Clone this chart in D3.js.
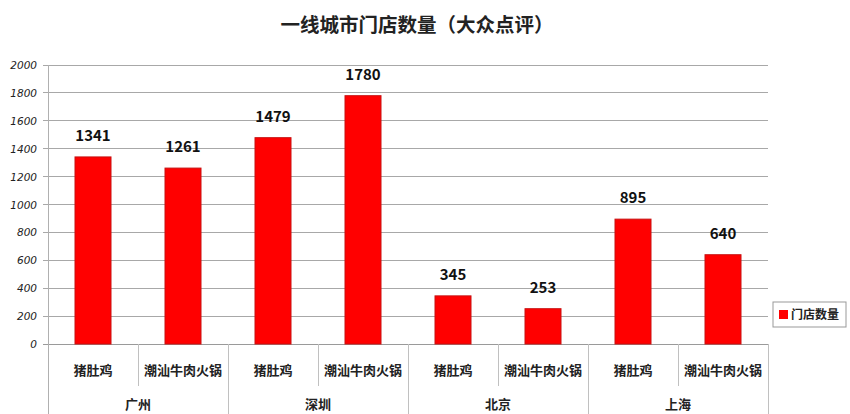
<!DOCTYPE html>
<html><head><meta charset="utf-8">
<script src="https://cdn.jsdelivr.net/npm/d3@7/dist/d3.min.js"></script>
<style>body{margin:0;background:#fff;}svg{display:block;font-family:"Noto Sans CJK SC","Noto Sans",sans-serif;}</style>
</head><body><svg id="c" width="850" height="414"></svg>
<script>
const cities = ["广州","深圳","北京","上海"];
const shops = ["猪肚鸡","潮汕牛肉火锅"];
const categories = ["广州|猪肚鸡","广州|潮汕牛肉火锅","深圳|猪肚鸡","深圳|潮汕牛肉火锅","北京|猪肚鸡","北京|潮汕牛肉火锅","上海|猪肚鸡","上海|潮汕牛肉火锅"];
const values = [1341,1261,1479,1780,345,253,895,640];
const yTicks = [0,200,400,600,800,1000,1200,1400,1600,1800,2000];
const seriesName = "门店数量";
const title = "一线城市门店数量（大众点评）";

const svg = d3.select("#c");
const L=48, R=768, T=65, B=344;
const x = d3.scaleBand().domain(categories).range([L,R]).paddingInner(0).paddingOuter(0);
const y = d3.scaleLinear().domain([0,2000]).range([B,T]);

svg.append("g").selectAll("line").data(yTicks).join("line")
  .attr("x1",L-5).attr("x2",R).attr("y1",d=>y(d)).attr("y2",d=>y(d))
  .attr("stroke",d=>d===0?"#9a9a9a":"#a8a8a8").attr("stroke-width",1).attr("shape-rendering","crispEdges");
svg.append("g").selectAll("text").data(yTicks).join("text")
  .attr("x",37).attr("y",d=>y(d)+4).attr("text-anchor","end")
  .attr("font-style","italic").attr("fill","#222")
  .style("font-family","'DejaVu Sans',sans-serif").style("font-size","10.5px")
  .text(d=>d);
svg.append("line").attr("x1",L).attr("x2",L).attr("y1",T).attr("y2",414)
  .attr("stroke","#b0b0b0").attr("shape-rendering","crispEdges");
const bw = x.bandwidth();
categories.forEach((c,i)=>{
  const xe = x(c)+bw;
  const isCity = (i%2===1);
  svg.append("line").attr("x1",xe).attr("x2",xe).attr("y1",B).attr("y2",isCity?414:386)
    .attr("stroke","#c0c0c0").attr("shape-rendering","crispEdges");
});
const barW = bw*0.4;
svg.append("g").selectAll("rect").data(values).join("rect")
  .attr("x",(d,i)=>x(categories[i])+(bw-barW)/2).attr("width",barW)
  .attr("y",d=>y(d)).attr("height",d=>B-y(d))
  .attr("fill","#ff0000").attr("stroke","#c81010").attr("stroke-width",1);
svg.append("g").selectAll("text").data(values).join("text")
  .attr("x",(d,i)=>x(categories[i])+bw/2).attr("y",d=>y(d)-16)
  .attr("text-anchor","middle").attr("font-size",15).attr("font-weight","bold").attr("fill","#111")
  .text(d=>d);
svg.append("g").selectAll("text").data(categories).join("text")
  .attr("x",d=>x(d)+bw/2).attr("y",375).attr("text-anchor","middle")
  .attr("font-size",13).attr("font-weight","bold").attr("fill","#222")
  .text(d=>d.split("|")[1]);
svg.append("g").selectAll("text").data(cities).join("text")
  .attr("x",(d,i)=>x(categories[i*2])+bw).attr("y",409).attr("text-anchor","middle")
  .attr("font-size",13).attr("font-weight","bold").attr("fill","#222")
  .text(d=>d);
svg.append("text").attr("x",417).attr("y",32).attr("text-anchor","middle")
  .attr("font-size",19.5).attr("font-weight","bold").attr("fill","#222").text(title);
const lg = svg.append("g").attr("transform","translate(773,302)");
lg.append("rect").attr("width",73).attr("height",25).attr("fill","#fff").attr("stroke","#999");
lg.append("rect").attr("x",6).attr("y",8).attr("width",9).attr("height",9).attr("fill","#ff0000");
lg.append("text").attr("x",18).attr("y",17).attr("font-size",12).attr("font-weight","bold").attr("fill","#222").text(seriesName);
</script></body></html>
